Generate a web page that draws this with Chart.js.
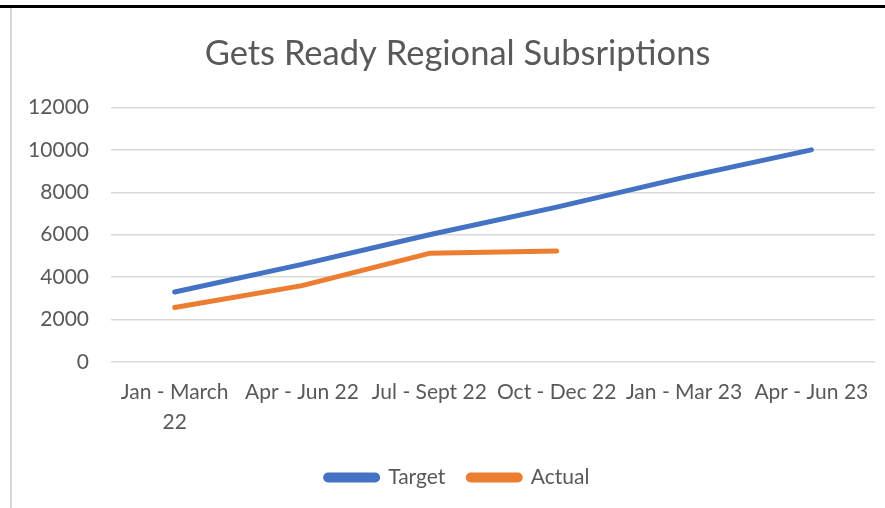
<!DOCTYPE html>
<html lang="en">
<head>
    <meta charset="UTF-8">
    <title>Gets Ready Regional Subsriptions</title>
    <script src="https://cdn.jsdelivr.net/npm/chart.js"></script>
    <style>
        html, body { margin: 0; padding: 0; background: #fff; }
        .frame { position: relative; width: 885px; height: 508px; overflow: hidden; }
        .top-rule { position: absolute; left: 0; top: 5px; width: 885px; height: 3px; background: #000; }
        .left-rule { position: absolute; left: 10px; top: 8px; width: 2px; height: 500px; background: #d9d9d9; }
        canvas { position: absolute; left: 0; top: 0; }
    </style>
</head>
<body>
    <div class="frame">
        <canvas id="lineChart" width="905" height="508"></canvas>
        <div class="top-rule"></div>
        <div class="left-rule"></div>
    </div>

    <script>
        const categories = [
            ['Jan - March', '22'],
            'Apr - Jun 22',
            'Jul - Sept 22',
            'Oct - Dec 22',
            'Jan - Mar 23',
            'Apr - Jun 23'
        ];
        const targetValues = [3300, 4600, 6000, 7300, 8700, 10000];
        const actualValues = [2570, 3600, 5120, 5230, null, null];
        const yTicks = [0, 2000, 4000, 6000, 8000, 10000, 12000];

        const textColor = '#595959';
        const fontFamily = 'Lato, "Liberation Sans", sans-serif';

        new Chart(document.getElementById('lineChart'), {
            type: 'line',
            data: {
                labels: categories,
                datasets: [{
                    label: 'Target',
                    data: targetValues,
                    borderColor: '#4472C4',
                    backgroundColor: '#4472C4',
                    borderWidth: 5,
                    borderCapStyle: 'round',
                    borderJoinStyle: 'round',
                    pointRadius: 0,
                    tension: 0
                }, {
                    label: 'Actual',
                    data: actualValues,
                    borderColor: '#ED7D31',
                    backgroundColor: '#ED7D31',
                    borderWidth: 5,
                    borderCapStyle: 'round',
                    borderJoinStyle: 'round',
                    pointRadius: 0,
                    tension: 0
                }]
            },
            options: {
                responsive: false,
                animation: false,
                layout: {
                    padding: { left: 20, right: 10, top: 0, bottom: 10 }
                },
                plugins: {
                    title: {
                        display: true,
                        text: 'Gets Ready Regional Subsriptions',
                        color: textColor,
                        font: { family: fontFamily, size: 34.5, weight: 'normal' },
                        padding: { top: 33, bottom: 33 }
                    },
                    legend: {
                        position: 'bottom',
                        labels: {
                            color: textColor,
                            font: { family: fontFamily, size: 21 },
                            boxWidth: 52,
                            boxHeight: 5,
                            useBorderRadius: true,
                            borderRadius: 2.5,
                            padding: 23
                        }
                    },
                    tooltip: { enabled: false }
                },
                scales: {
                    x: {
                        offset: true,
                        grid: { display: false, drawTicks: false },
                        border: { display: false },
                        afterFit: (axis) => { axis.height = 82; },
                        ticks: {
                            color: textColor,
                            font: { family: fontFamily, size: 21, lineHeight: 1.4 },
                            maxRotation: 0,
                            autoSkip: false,
                            padding: 16
                        }
                    },
                    y: {
                        min: 0,
                        max: 12000,
                        afterBuildTicks: (axis) => {
                            axis.ticks = yTicks.map(v => ({ value: v }));
                        },
                        afterFit: (axis) => { axis.width = 91; },
                        grid: { color: '#d9d9d9', lineWidth: 1.5, drawTicks: false },
                        border: { display: false },
                        ticks: {
                            color: textColor,
                            font: { family: fontFamily, size: 21 },
                            padding: 22,
                            callback: (v) => String(v)
                        }
                    },
                    // empty right-hand spacer so title and legend centre like the original
                    spacer: {
                        position: 'right',
                        grid: { display: false, drawTicks: false },
                        border: { display: false },
                        ticks: { display: false },
                        afterFit: (axis) => { axis.width = 20; }
                    }
                }
            }
        });
    </script>
</body>
</html>
